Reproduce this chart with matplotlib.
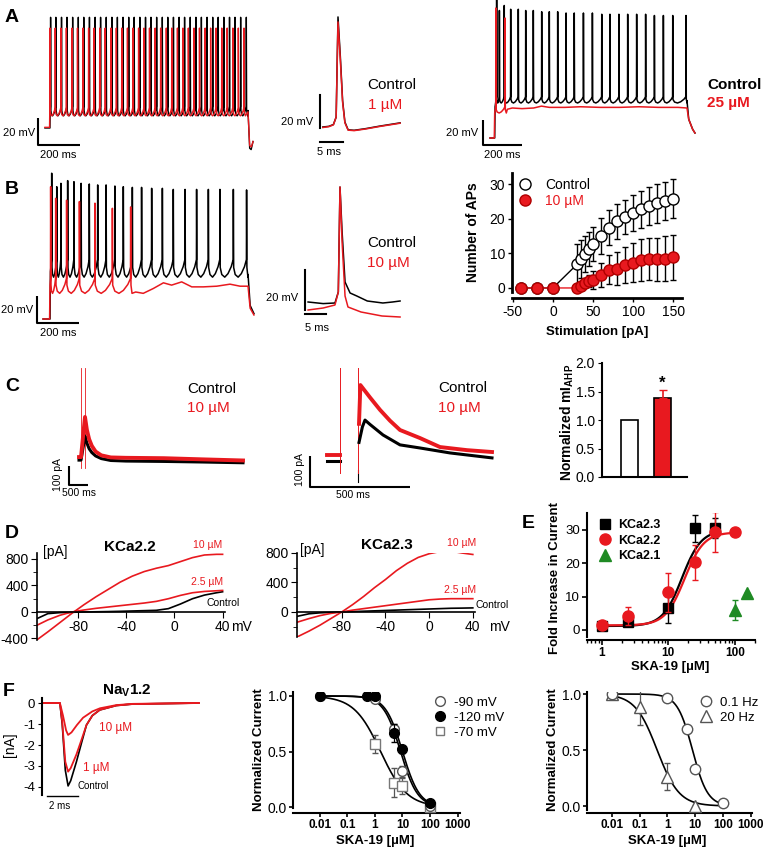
import numpy as np
import matplotlib.pyplot as plt
from matplotlib.lines import Line2D
from matplotlib.ticker import MultipleLocator, NullFormatter

plt.rcParams['font.family'] = ['Liberation Sans', 'DejaVu Sans']
plt.rcParams['mathtext.fontset'] = 'custom'
plt.rcParams['mathtext.rm'] = 'Liberation Sans'
plt.rcParams['mathtext.bf'] = 'Liberation Sans:bold'
plt.rcParams['axes.linewidth'] = 1.2
plt.rcParams['axes.unicode_minus'] = False

RED = '#e8191f'
GREEN = '#1f8a24'

# ---------------- data ----------------
# A: spike trains (ms, mV)
a1_ctrl_spikes = [60, 85, 112, 138, 165, 192, 218, 245, 272, 298, 325, 352, 378, 405, 432, 458, 485, 512,
                  538, 565, 592, 618, 645, 672, 698, 725, 752, 778, 805, 832, 858, 885, 912, 938, 965, 992]
a1_ska_spikes = [57, 82, 109, 135, 162, 188, 214, 241, 267, 294, 320, 347, 373, 399, 426, 452, 479, 505,
                 531, 558, 584, 611, 637, 664, 690, 716, 743, 769, 796, 822, 848, 875, 901, 928, 954, 981]
a1_ctrl_peak, a1_ska_peak = 12, 4

a2_ctrl = [(-3.3, -58), (-2, -57.6), (-1, -56.5), (-0.4, -52), (0, 8.7), (0.5, -15), (1, -42), (1.5, -55),
           (2.2, -59.7), (3.5, -60), (6, -59), (9, -57.5), (13.5, -55.5)]
a2_ska = [(-3.3, -58.3), (-2, -57.8), (-1, -56.7), (-0.4, -52), (0, 5.7), (0.5, -17), (1, -43), (1.5, -55.5),
          (2.2, -59.9), (3.5, -60.2), (6, -59.2), (9, -57.7), (13.5, -55.7)]

a3_ctrl_spikes = [70, 84, 109, 142, 181, 219, 258, 301, 340, 383, 426, 468, 515, 561, 609, 651, 697, 742,
                  788, 834, 879, 925, 973, 1041]
a3_ctrl_peaks = [42, 32, 36, 33, 33, 32, 32, 31, 31, 31, 30, 30, 30, 30, 29, 29, 29, 29, 29, 29, 28, 28, 28, 28]
a3_ska_spikes = [66, 113]
a3_ska_peaks = [34, 26]
a3_ska_tail = [(125, -47), (150, -46), (200, -46.5), (260, -46), (300, -44.5), (340, -45.5), (420, -45.5),
               (500, -45), (600, -45.5), (700, -45.5), (800, -45), (900, -45.5), (1000, -45.5), (1046, -46),
               (1055, -55), (1075, -63), (1087, -66)]

# B
b1_ctrl_spikes = [70, 94, 114, 146, 176, 210, 249, 289, 329, 371, 411, 454, 498, 546, 597, 649, 705, 760,
                  816, 871, 935, 998]
b1_ctrl_peaks = [38, 28, 30.5, 32.5, 31.7, 30.5, 30, 29.3, 29.3, 28.5, 28, 27.5, 27.5, 26.8, 26.8, 26, 26,
                 26, 26, 26, 26, 25.6]
b1_ska_spikes = [65, 89, 141, 202, 276, 359, 446]
b1_ska_peaks = [28, 19.4, 18, 17, 15.8, 12, 13]
b1_ska_tail = [(470, -50), (506, -51), (554, -47.4), (602, -43.2), (641, -44.9), (689, -42.5), (737, -46.2),
               (792, -46.2), (856, -45.7), (919, -44.2), (967, -45.7), (1005, -45.7), (1015, -62), (1033, -67)]

b2_ctrl = [(-7.6, -55), (-4, -55.8), (-1.2, -55.5), (-0.4, -50), (0, 2.5), (0.5, -20), (1.2, -45),
           (2.4, -50.5), (4, -52), (6.5, -54.5), (10.2, -55.5), (12.5, -55), (14.3, -54.5)]
b2_ska = [(-7.6, -59), (-4, -58), (-1.2, -56.5), (-0.4, -50), (0, 2.5), (0.5, -25), (1.2, -52),
          (1.9, -57.5), (5, -60), (10, -62), (14.3, -62.5)]

b3_stim = [-40, -20, 0, 30, 35, 40, 45, 50, 60, 70, 80, 90, 100, 110, 120, 130, 140, 150]
b3_ctrl = [0, 0, 0, 6.8, 8.3, 9.8, 11.3, 12.7, 15.0, 17.4, 19.2, 20.5, 21.7, 22.7, 23.7, 24.4, 25.2, 25.8]
b3_ctrl_err = [0, 0, 0, 6.0, 5.5, 5.2, 5.0, 4.8, 5.2, 5.0, 5.0, 5.0, 5.2, 5.4, 5.5, 5.5, 5.5, 5.6]
b3_ska = [0, 0, 0, 0, 0.7, 1.3, 2.0, 2.3, 3.8, 5.3, 5.6, 6.6, 7.3, 8.1, 8.3, 8.3, 8.5, 8.8]
b3_ska_err = [0, 0, 0, 0, 0.5, 1.0, 1.8, 2.5, 3.5, 4.2, 4.8, 5.2, 5.6, 6.0, 6.0, 6.2, 6.4, 6.5]

# C (ms, pA)
c1_ctrl = [(263, 10), (316, 10), (421, 137), (470, 100), (530, 70), (600, 50), (700, 32), (850, 18),
           (1100, 8), (1500, 5), (2500, 3), (3500, 0), (4579, -4)]
c1_ska = [(263, 26), (316, 26), (421, 237), (470, 170), (530, 120), (600, 85), (700, 55), (850, 35),
          (1100, 24), (1500, 22), (2500, 20), (3500, 14), (4579, 8)]
c1_artifacts = [316, 421]
c2_ctrl_pre = [(85, 0), (150, 0)]
c2_ska_pre = [(85, 19), (150, 19)]
c2_ctrl = [(245, 60), (262, 110), (275, 132), (300, 118), (365, 84), (450, 52), (550, 42), (700, 26), (910, 10)]
c2_ska = [(245, 120), (252, 245), (300, 205), (350, 165), (400, 130), (450, 100), (550, 74), (650, 45),
          (785, 35), (910, 29)]
c2_artifacts = [150, 240]

c3_groups = ['Control', '10 µM']
c3_vals = [1.0, 1.38]
c3_err = [0.0, 0.14]

# D (mV, pA)
d1_mv = [-114, -105, -95, -85, -75, -65, -55, -45, -35, -25, -15, -5, 5, 15, 25, 35, 40]
d1_10 = [-420, -300, -160, -20, 110, 230, 340, 450, 540, 610, 660, 700, 760, 820, 860, 870, 870]
d1_25 = [-200, -120, -50, 0, 30, 55, 75, 95, 115, 135, 160, 200, 250, 290, 310, 320, 325]
d1_ctrl = [-100, -25, -10, -5, 0, 3, 6, 10, 15, 20, 25, 50, 120, 200, 255, 290, 305]
d2_mv = [-121, -110, -100, -90, -80, -70, -60, -50, -40, -30, -20, -10, 0, 10, 20, 30, 40]
d2_10 = [-340, -260, -180, -90, 0, 100, 210, 330, 440, 560, 660, 740, 790, 820, 825, 800, 780]
d2_25 = [-140, -90, -50, -20, 0, 25, 45, 65, 85, 105, 125, 145, 165, 175, 180, 180, 180]
d2_ctrl = [-60, -25, -12, -6, 0, 5, 10, 15, 20, 25, 30, 35, 40, 45, 50, 52, 55]

# E
e_x23 = [1, 2.5, 10, 25, 50]
e_y23 = [1.2, 2.5, 6.6, 30.5, 30.5]
e_err23 = [0.5, 1.0, 4.5, 4.0, 3.0]
e_x22 = [1, 2.5, 10, 25, 50, 100]
e_y22 = [1.5, 4.2, 11.3, 20.3, 29.5, 29.5]
e_err22 = [0.5, 2.8, 5.8, 5.3, 6.0, 0.0]
e_x21 = [100, 150]
e_y21 = [6.0, 11.0]
e_err21 = [3.0, 0.0]
e_fit23 = (1.2, 30.0, 16.0, 3.0)   # bottom, top, EC50, Hill n
e_fit22 = (1.4, 29.3, 17.5, 3.0)

# F
f1_ms_ctrl = [0, 1.1, 1.25, 1.45, 1.63, 1.8, 2.17, 2.5, 2.82, 3.2, 3.68, 4.75, 5.8, 10.1]
f1_ctrl = [0, 0, -1.0, -3.2, -3.95, -3.7, -2.8, -1.9, -1.05, -0.6, -0.33, -0.12, -0.05, 0]
f1_ms_1 = [0, 1.1, 1.25, 1.45, 1.63, 1.8, 2.17, 2.5, 2.82, 3.2, 3.68, 4.75, 5.8, 10.1]
f1_1 = [0, 0, -0.9, -2.8, -3.27, -3.1, -2.45, -1.75, -1.05, -0.6, -0.33, -0.12, -0.05, 0]
f1_ms_10 = [0, 1.1, 1.3, 1.5, 1.63, 1.85, 2.2, 2.6, 3.2, 3.7, 4.75, 5.8, 10.1]
f1_10 = [0, 0, -0.6, -1.3, -1.52, -1.4, -1.05, -0.7, -0.4, -0.25, -0.1, -0.04, 0]

f2_x90 = [0.01, 1, 5, 10, 100]
f2_y90 = [1.0, 0.97, 0.70, 0.32, 0.01]
f2_e90 = [0, 0, 0.05, 0.05, 0.02]
f2_x120 = [0.01, 0.5, 1, 5, 10, 100]
f2_y120 = [1.0, 1.0, 1.0, 0.67, 0.52, 0.04]
f2_e120 = [0, 0, 0, 0.08, 0.03, 0.02]
f2_x70 = [1, 5, 10, 100]
f2_y70 = [0.57, 0.22, 0.19, 0.0]
f2_e70 = [0.08, 0.13, 0.07, 0.02]
f2_fits = [(8.5, 1.4), (10.0, 1.4), (1.6, 0.9)]   # IC50, n for -90, -120, -70 mV

f3_x01 = [0.01, 1, 5, 10, 100]
f3_y01 = [1.0, 0.96, 0.69, 0.33, 0.03]
f3_x20 = [0.01, 0.1, 1, 10]
f3_y20 = [1.0, 0.88, 0.26, 0.0]
f3_e20 = [0, 0.16, 0.12, 0]
f3_fits = [(8.0, 1.6), (0.43, 1.1)]

# ---------------- helpers ----------------
W, H = 763, 851
fig = plt.figure(figsize=(W / 100, H / 100), dpi=100)


def px_axes(x0, y0, x1, y1):
    return fig.add_axes([x0 / W, 1 - y1 / H, (x1 - x0) / W, (y1 - y0) / H])


def trace_axes(x0, y0, x1, y1, xo, sx, yo, sy):
    ax = px_axes(x0, y0, x1, y1)
    ax.set_xlim((x0 - xo) / sx, (x1 - xo) / sx)
    ax.set_ylim((yo - y1) / sy, (yo - y0) / sy)
    ax.axis('off')
    return ax


def ftext(x, y, s, **kw):
    kw.setdefault('va', 'center')
    fig.text(x / W, 1 - y / H, s, **kw)


PROF_F = [0.0, 0.12, 0.35, 0.6, 0.85, 1.0]
PROF_V = [0.55, 0.15, 0.0, 0.2, 0.6, 1.0]


def spike_path(pre, spikes, peaks, thr, trough, post):
    peaks = np.broadcast_to(peaks, (len(spikes),))
    t = [p[0] for p in pre]
    v = [p[1] for p in pre]
    d = thr - trough
    for i, s in enumerate(spikes):
        t += [s - 0.8, s]
        v += [thr, peaks[i]]
        a = s + 1.5
        if i + 1 < len(spikes):
            b = spikes[i + 1] - 0.8
            for f, g in zip(PROF_F, PROF_V):
                t.append(a + f * (b - a))
                v.append(trough + g * d)
        else:
            t += [a, a + 5]
            v += [trough + 0.55 * d, trough]
    t += [p[0] for p in post]
    v += [p[1] for p in post]
    return t, v


def xy(pts):
    return [p[0] for p in pts], [p[1] for p in pts]


def lbar(ax, t0, v0, dt, dv, lw=1.5):
    ax.plot([t0, t0, t0 + dt], [v0 + dv, v0, v0], color='k', lw=lw, solid_capstyle='butt')


# ---------------- A ----------------
ax = trace_axes(30, 5, 260, 165, 38, 0.21, 33.5, 1.35)
ax.plot(*spike_path([(33, -70), (57, -70), (58, -57)], a1_ctrl_spikes, a1_ctrl_peak, -54, -61,
                    [(1000, -57), (1008, -85), (1015, -86), (1024, -80)]), color='k', lw=1.0)
ax.plot(*spike_path([(33, -69.5), (55, -69.5), (56, -57)], a1_ska_spikes, a1_ska_peak, -55, -61,
                    [(1000, -58), (1008, -83), (1016, -84), (1024, -80)]), color=RED, lw=1.0)
lbar(ax, 0, -82.6, 200, 20)

ax = trace_axes(300, 5, 405, 160, 338, 4.6, 31.3, 1.65)
ax.plot(*xy(a2_ctrl), color='k', lw=1.1)
ax.plot(*xy(a2_ska), color=RED, lw=1.1)
ax.plot([-3.9, -3.9], [-38.6, -58.6], color='k', lw=1.5)
ax.plot([-3.9, 1.1], [-67.1, -67.1], color='k', lw=1.5)

ax = trace_axes(470, 0, 705, 165, 483, 0.195, 50.5, 1.25)
ax.plot(*spike_path([(36, -70), (60, -70), (62, -45)], a3_ctrl_spikes, a3_ctrl_peaks, -37, -42,
                    [(1046, -40), (1055, -55), (1075, -63), (1087, -66)]), color='k', lw=1.1)
ax.plot(*spike_path([(36, -70), (58, -70), (60, -50)], a3_ska_spikes, a3_ska_peaks, -45, -50,
                    a3_ska_tail), color=RED, lw=1.1)
lbar(ax, 0, -75.6, 200, 20)

# ---------------- B ----------------
ax = trace_axes(30, 165, 260, 330, 37, 0.21, 224.5, 1.35)
ax.plot(*spike_path([(29, -70), (62, -70), (64, -35)], b1_ctrl_spikes, b1_ctrl_peaks, -26, -39,
                    [(1005, -37), (1015, -60), (1033, -66)]), color='k', lw=1.1)
ax.plot(*spike_path([(29, -70), (60, -70), (62, -45)], b1_ska_spikes, b1_ska_peaks, -40, -51,
                    b1_ska_tail), color=RED, lw=1.1)
lbar(ax, 0, -73, 200, 20)

ax = trace_axes(300, 175, 405, 335, 340, 4.2, 192, 2.0)
ax.plot(*xy(b2_ctrl), color='k', lw=1.1)
ax.plot(*xy(b2_ska), color=RED, lw=1.1)
ax.plot([-8.33, -8.33], [-39, -59], color='k', lw=1.5)
ax.plot([-8.33, -3.33], [-61, -61], color='k', lw=1.5)

ax = px_axes(512, 173, 682, 298)
ax.errorbar(b3_stim, b3_ctrl, yerr=b3_ctrl_err, fmt='o-', color='k', mfc='white', mec='k', ms=8,
            lw=1.0, elinewidth=1.0, capsize=2, zorder=2)
ax.errorbar(b3_stim, b3_ska, yerr=b3_ska_err, fmt='o-', color=RED, mfc=RED, mec='#b00000', ms=8,
            lw=1.0, ecolor='k', elinewidth=1.0, capsize=2, zorder=3)
ax.set_xlim(-51, 161)
ax.set_ylim(-2.9, 33.2)
ax.spines[['top', 'right']].set_visible(False)
ax.spines[['left', 'bottom']].set_linewidth(2)
ax.spines['left'].set_bounds(-1.2, 33.2)
ax.set_xticks([-50, 0, 50, 100, 150])
ax.set_yticks([0, 10, 20, 30])
ax.tick_params(labelsize=10, length=3, width=1, pad=2)
hnd = [Line2D([], [], ls='none', marker='o', ms=8, mfc='white', mec='k'),
       Line2D([], [], ls='none', marker='o', ms=8, mfc=RED, mec='#b00000')]
leg = ax.legend(hnd, ['Control', '10 µM'], loc='upper left', bbox_to_anchor=(-0.04, 1.06),
                frameon=False, fontsize=10, handlelength=1.0, handletextpad=1.0, labelspacing=0.15)
leg.get_texts()[1].set_color(RED)

# ---------------- C ----------------
ax = trace_axes(60, 360, 250, 500, 69, 0.038, 462, 0.19)
for t in c1_artifacts:
    ax.plot([t, t], [495, -32], color=RED, lw=0.6)
ax.plot(*xy(c1_ctrl), color='k', lw=2.2)
ax.plot(*xy(c1_ska), color=RED, lw=2.8)
lbar(ax, 0, -121, 500, 100)

ax = trace_axes(300, 360, 500, 500, 310, 0.2, 461, 0.31)
ax.plot(*xy(c2_ctrl_pre), color='k', lw=2.2)
ax.plot(*xy(c2_ska_pre), color=RED, lw=2.8)
ax.plot([c2_artifacts[0]] * 2, [300, -39], color=RED, lw=0.7)
ax.plot([c2_artifacts[1]] * 2, [-30, -68], color='k', lw=0.8)
ax.plot([c2_artifacts[1]] * 2, [300, -40], color=RED, lw=0.7)
ax.plot(*xy(c2_ska), color=RED, lw=2.8)
ax.plot(*xy(c2_ctrl), color='k', lw=2.2)
lbar(ax, 0, -84, 500, 100)

ax = px_axes(602, 363, 687, 477)
ax.bar([0, 1], c3_vals, width=0.52, color=['white', RED], edgecolor='k', lw=1.2)
ax.errorbar([1], [c3_vals[1]], yerr=[[0], [c3_err[1]]], color=RED, capsize=3, lw=1.2)
ax.text(1, c3_vals[1] + c3_err[1] + 0.12, '*', ha='center', va='center', fontsize=12, fontweight='bold')
ax.set_xlim(-0.83, 1.74)
ax.set_ylim(0, 2.0)
ax.set_xticks([])
ax.set_yticks([0, 0.5, 1.0, 1.5, 2.0])
ax.set_yticklabels(['0.0', '0.5', '1.0', '1.5', '2.0'])
ax.spines[['top', 'right']].set_visible(False)
ax.spines[['left', 'bottom']].set_linewidth(1.5)
ax.tick_params(labelsize=10, length=3, pad=2)


# ---------------- D ----------------
def iv_axes(box, xlim, ylim, yticks, mv, curves):
    ax = px_axes(*box)
    for y, c in curves:
        ax.plot(mv, y, color=c, lw=1.2)
    ax.set_xlim(*xlim)
    ax.set_ylim(*ylim)
    ax.spines[['top', 'right']].set_visible(False)
    ax.spines['bottom'].set_position(('data', 0))
    ax.set_xticks([-80, -40, 0, 40])
    ax.set_yticks(yticks)
    ax.yaxis.set_minor_locator(MultipleLocator(200))
    ax.tick_params(labelsize=10, length=4, pad=2)
    ax.tick_params(which='minor', length=3)
    return ax


iv_axes((37, 553, 225, 640), (-114, 42), (-423, 890), [-400, 0, 400, 800], d1_mv,
        [(d1_ctrl, 'k'), (d1_25, RED), (d1_10, RED)])
iv_axes((297, 553, 475, 637), (-121, 42), (-340, 800), [0, 400, 800], d2_mv,
        [(d2_ctrl, 'k'), (d2_25, RED), (d2_10, RED)])

# ---------------- E ----------------
ax = px_axes(587, 513, 755, 640)
xs23 = np.logspace(0, np.log10(50), 120)
xs22 = np.logspace(0, 2, 120)
lo, hi, k, n = e_fit23
ax.plot(xs23, lo + (hi - lo) / (1 + (k / xs23) ** n), color='k', lw=1.6)
lo, hi, k, n = e_fit22
ax.plot(xs22, lo + (hi - lo) / (1 + (k / xs22) ** n), color=RED, lw=1.6)
ax.errorbar(e_x23, e_y23, yerr=e_err23, fmt='s', color='k', ms=7, elinewidth=1, capsize=2, zorder=3)
ax.errorbar(e_x22, e_y22, yerr=e_err22, fmt='o', color=RED, ecolor=RED, ms=8, elinewidth=1, capsize=2,
            zorder=4)
ax.errorbar(e_x21, e_y21, yerr=e_err21, fmt='^', color=GREEN, ecolor=GREEN, ms=8, elinewidth=1,
            capsize=2, zorder=4)
ax.set_xscale('log')
ax.set_xlim(0.6, 200)
ax.set_ylim(-3, 35.1)
ax.spines[['top', 'right']].set_visible(False)
ax.spines[['left', 'bottom']].set_linewidth(1.5)
ax.spines['left'].set_bounds(-2, 35.1)
ax.set_yticks([0, 10, 20, 30])
ax.set_xticks([1, 10, 100])
ax.set_xticklabels(['1', '10', '100'], fontweight='bold', fontsize=8.5)
ax.xaxis.set_minor_formatter(NullFormatter())
ax.tick_params(labelsize=9.5, length=3.5, width=1.2, pad=1.5)
ax.tick_params(axis='x', labelsize=8.5)
ax.tick_params(which='minor', length=2.5, width=1)
hnd = [Line2D([], [], ls='none', marker='s', ms=7, color='k'),
       Line2D([], [], ls='none', marker='o', ms=8, color=RED),
       Line2D([], [], ls='none', marker='^', ms=8, color=GREEN)]
leg = ax.legend(hnd, ['KCa2.3', 'KCa2.2', 'KCa2.1'], loc='upper left', bbox_to_anchor=(0.0, 1.04),
                frameon=False, handlelength=1.0, handletextpad=0.6, labelspacing=0.28,
                prop={'weight': 'bold', 'size': 9})

# ---------------- F ----------------
ax = px_axes(42, 690, 205, 800)
ax.plot(f1_ms_ctrl, f1_ctrl, color='k', lw=1.2)
ax.plot(f1_ms_1, f1_1, color=RED, lw=1.3)
ax.plot(f1_ms_10, f1_10, color=RED, lw=1.3)
ax.plot([0.26, 2.26], [-4.43, -4.43], color='k', lw=1.0)
ax.set_xlim(-0.06, 10.5)
ax.set_ylim(-4.62, 0.62)
ax.spines[['top', 'right', 'bottom']].set_visible(False)
ax.spines['left'].set_bounds(-4.38, 0.24)
ax.spines['left'].set_linewidth(1.5)
ax.set_xticks([])
ax.set_yticks([0, -1, -2, -3, -4])
ax.tick_params(labelsize=9.5, length=3, pad=2)


def block_axes(box, xlim, ylim, ybot):
    ax = px_axes(*box)
    ax.set_xscale('log')
    ax.set_xlim(*xlim)
    ax.set_ylim(*ylim)
    ax.spines[['top', 'right']].set_visible(False)
    ax.spines[['left', 'bottom']].set_linewidth(1.5)
    ax.spines['left'].set_bounds(ybot, ylim[1])
    ax.set_xticks([0.01, 0.1, 1, 10, 100, 1000])
    ax.set_xticklabels(['0.01', '0.1', '1', '10', '100', '1000'], fontweight='bold', fontsize=8.5)
    ax.xaxis.set_minor_formatter(NullFormatter())
    ax.set_yticks([0, 0.5, 1.0])
    ax.set_yticklabels(['0.0', '0.5', '1.0'], fontsize=10)
    ax.tick_params(length=3, width=1.2, pad=1.2)
    ax.tick_params(which='minor', length=2, width=0.8)
    return ax


xs = np.logspace(-2, 2, 200)
ax = block_axes((293, 692, 460, 813), (0.00105, 1230), (-0.054, 1.036), -0.009)
for k, n in f2_fits:
    ax.plot(xs, 1 / (1 + (xs / k) ** n), color='k', lw=1.2)
ax.errorbar(f2_x70, f2_y70, yerr=f2_e70, fmt='s', ms=7, mfc='white', mec='#777777', ecolor='#555555',
            elinewidth=0.9, capsize=2, zorder=3)
ax.errorbar(f2_x90, f2_y90, yerr=f2_e90, fmt='o', ms=7, mfc='white', mec='#555555', ecolor='#555555',
            elinewidth=0.9, capsize=2, zorder=3)
ax.errorbar(f2_x120, f2_y120, yerr=f2_e120, fmt='o', ms=7, color='k', elinewidth=0.9, capsize=2, zorder=4)
hnd = [Line2D([], [], ls='none', marker='o', ms=7, mfc='white', mec='#555555'),
       Line2D([], [], ls='none', marker='o', ms=7, color='k'),
       Line2D([], [], ls='none', marker='s', ms=6, mfc='white', mec='#777777')]
ax.legend(hnd, ['-90 mV', '-120 mV', '-70 mV'], loc='upper left', bbox_to_anchor=(0.78, 1.06),
          frameon=False, fontsize=9.5, handlelength=0.8, handletextpad=0.6, labelspacing=0.2)

ax = block_axes((587, 692, 752, 813), (0.0013, 1100), (-0.0625, 1.018), -0.036)
for k, n in f3_fits:
    ax.plot(xs, 1 / (1 + (xs / k) ** n), color='k', lw=1.2)
ax.errorbar(f3_x20, f3_y20, yerr=f3_e20, fmt='^', ms=8, mfc='white', mec='#555555', ecolor='#555555',
            elinewidth=0.9, capsize=2, zorder=3)
ax.errorbar(f3_x01, f3_y01, yerr=0, fmt='o', ms=7.5, mfc='white', mec='#555555', ecolor='#555555',
            zorder=3)
hnd = [Line2D([], [], ls='none', marker='o', ms=7.5, mfc='white', mec='#555555'),
       Line2D([], [], ls='none', marker='^', ms=8, mfc='white', mec='#555555')]
ax.legend(hnd, ['0.1 Hz', '20 Hz'], loc='upper left', bbox_to_anchor=(0.62, 1.06),
          frameon=False, fontsize=9.5, handlelength=0.8, handletextpad=0.6, labelspacing=0.2)

# ---------------- texts ----------------
for s, x, y in [('A', 5, 17), ('B', 5, 190), ('C', 5, 387), ('D', 5, 533), ('F', 3, 692)]:
    ftext(x, y, s, fontsize=14, fontweight='bold')
ftext(528, 523, 'E', fontsize=14, fontweight='bold', ha='center')

sb = dict(fontsize=8)
ftext(35, 133, '20 mV', ha='right', **sb)
ftext(40, 155, '200 ms', **sb)
ftext(313, 122, '20 mV', ha='right', **sb)
ftext(317, 152, '5 ms', **sb)
ftext(478, 133, '20 mV', ha='right', **sb)
ftext(484, 155, '200 ms', **sb)
ftext(367, 85, 'Control', fontsize=11)
ftext(368, 105, '1 µM', fontsize=11, color=RED)
ftext(707, 85, 'Control', fontsize=11, fontweight='bold')
ftext(707, 103, '25 µM', fontsize=11, fontweight='bold', color=RED)

ftext(33, 310, '20 mV', ha='right', **sb)
ftext(40, 333, '200 ms', **sb)
ftext(298, 298, '20 mV', ha='right', **sb)
ftext(305, 328, '5 ms', **sb)
ftext(367, 243, 'Control', fontsize=11)
ftext(367, 263, '10 µM', fontsize=11, color=RED)
ftext(473, 232, 'Number of APs', rotation=90, ha='center', fontsize=10, fontweight='bold')
ftext(597, 332, 'Stimulation [pA]', ha='center', fontsize=9.5, fontweight='bold')

ftext(58, 475, '100 pA', rotation=90, ha='center', fontsize=7.5)
ftext(79, 493, '500 ms', ha='center', fontsize=7.5)
ftext(187, 389, 'Control', fontsize=11)
ftext(187, 408, '10 µM', fontsize=11, color=RED)
ftext(300, 470, '100 pA', rotation=90, ha='center', fontsize=7.5)
ftext(353, 495, '500 ms', ha='center', fontsize=7.5)
ftext(438, 388, 'Control', fontsize=11)
ftext(438, 408, '10 µM', fontsize=11, color=RED)
ftext(567, 422, r'Normalized mI$_{\mathbf{AHP}}$', rotation=90, ha='center', fontsize=10,
      fontweight='bold')

ftext(43, 552, '[pA]', fontsize=10)
ftext(130, 547, 'KCa2.2', ha='center', fontsize=11, fontweight='bold')
ftext(208, 545, '10 µM', ha='center', fontsize=7.5, color=RED)
ftext(207, 582, '2.5 µM', ha='center', fontsize=7.5, color=RED)
ftext(223, 603, 'Control', ha='center', fontsize=7.5)
ftext(231, 627, 'mV', fontsize=10)
ftext(300, 550, '[pA]', fontsize=10)
ftext(387, 545, 'KCa2.3', ha='center', fontsize=11, fontweight='bold')
ftext(462, 543, '10 µM', ha='center', fontsize=7.5, color=RED)
ftext(460, 590, '2.5 µM', ha='center', fontsize=7.5, color=RED)
ftext(476, 605, 'Control', fontsize=7.5)
ftext(489, 627, 'mV', fontsize=10)

ftext(555, 578, 'Fold Increase in Current', rotation=90, ha='center', fontsize=9.5, fontweight='bold')
ftext(670, 667, 'SKA-19 [µM]', ha='center', fontsize=9.5, fontweight='bold')

ftext(10, 745, '[nA]', rotation=90, ha='center', fontsize=10)
ftext(127, 691, r'Na$_{\mathbf{V}}$1.2', ha='center', fontsize=11, fontweight='bold')
ftext(99, 728, '10 µM', fontsize=8.5, color=RED)
ftext(83, 768, '1 µM', fontsize=8.5, color=RED)
ftext(77, 786, 'Control', fontsize=7)
ftext(60, 806, '2 ms', ha='center', fontsize=7)
ftext(259, 750, 'Normalized Current', rotation=90, ha='center', fontsize=9.5, fontweight='bold')
ftext(375, 841, 'SKA-19 [µM]', ha='center', fontsize=9.5, fontweight='bold')
ftext(553, 750, 'Normalized Current', rotation=90, ha='center', fontsize=9.5, fontweight='bold')
ftext(667, 841, 'SKA-19 [µM]', ha='center', fontsize=9.5, fontweight='bold')

fig.savefig('out.png', dpi=100)
